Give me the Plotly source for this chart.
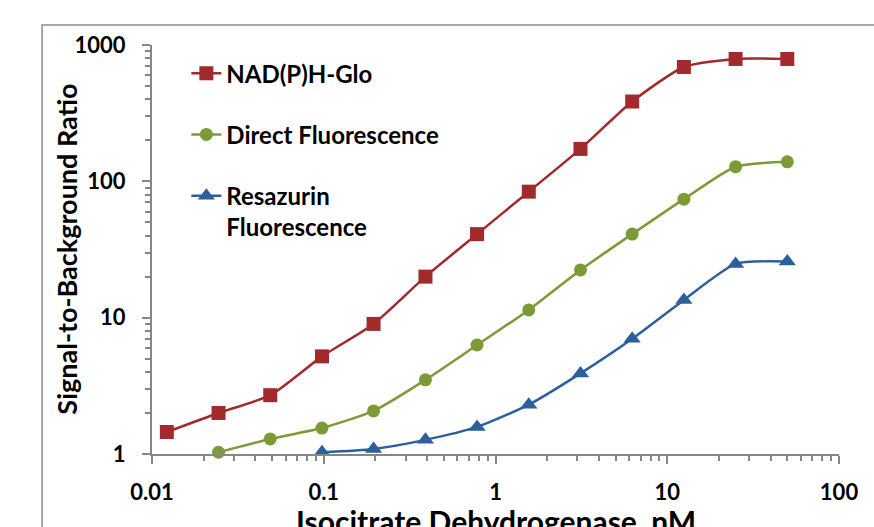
import plotly.graph_objects as go

# Enzyme concentration series (nM), two-fold dilutions
conc_nadph = [0.0122, 0.0244, 0.0488, 0.0977, 0.195, 0.391, 0.781, 1.5625, 3.125, 6.25, 12.5, 25, 50]
conc_direct = [0.0244, 0.0488, 0.0977, 0.195, 0.391, 0.781, 1.5625, 3.125, 6.25, 12.5, 25, 50]
conc_resaz = [0.0977, 0.195, 0.391, 0.781, 1.5625, 3.125, 6.25, 12.5, 25, 50]

# Signal-to-background ratios
sb_nadph = [1.45, 2.0, 2.7, 5.2, 9.0, 20, 41, 84, 173, 385, 690, 790, 790]
sb_direct = [1.03, 1.29, 1.55, 2.07, 3.5, 6.3, 11.4, 22.4, 41, 74, 128, 139]
sb_resaz = [1.03, 1.09, 1.27, 1.58, 2.3, 3.9, 7.0, 13.5, 24.8, 25.8]

names = ["NAD(P)H-Glo", "Direct Fluorescence", "Resazurin<br>Fluorescence"]
colors = ["#A2292C", "#7C9A36", "#2C609C"]
symbols = ["square", "circle", "triangle-up"]
sizes = [14, 13, 15]

x_title = "Isocitrate Dehydrogenase, nM"
y_title = "Signal-to-Background Ratio"

FONT = "Lato"
AXIS_GRAY = "#878787"

fig = go.Figure()
for i, (xs, ys) in enumerate([(conc_nadph, sb_nadph), (conc_direct, sb_direct), (conc_resaz, sb_resaz)]):
    fig.add_trace(go.Scatter(
        x=xs, y=ys, name=names[i], legendgroup=f"g{i}",
        mode="lines+markers",
        line=dict(color=colors[i], width=2.5, shape="spline", smoothing=0.6),
        marker=dict(color=colors[i], symbol=symbols[i], size=sizes[i]),
        cliponaxis=False,
    ))

axis_common = dict(
    type="log", showgrid=False, zeroline=False, automargin=False,
    showline=True, linecolor=AXIS_GRAY, linewidth=2,
    ticks="outside", ticklen=8, tickwidth=2, tickcolor=AXIS_GRAY,
    tickfont=dict(family=FONT, size=22, color="#000000", weight="bold"),
    minor=dict(ticks="outside", dtick="D1", ticklen=5, tickwidth=2,
               tickcolor=AXIS_GRAY, showgrid=False),
)

fig.update_xaxes(
    **axis_common, range=[-2, 2], dtick=1,
    tickvals=[0.01, 0.1, 1, 10, 100], ticktext=["0.01", "0.1", "1", "10", "100"],
    ticklabelstandoff=10,
)
fig.update_yaxes(
    **axis_common, range=[0, 3], dtick=1,
    tickvals=[1, 10, 100, 1000], ticktext=["1", "10", "100", "1000"],
    ticklabelstandoff=12,
)

title_font = dict(family=FONT, color="#000000", weight="bold")
# Axis titles placed as annotations so the x title can sit partly below the page edge
fig.add_annotation(text=x_title, xref="paper", yref="paper", x=0.5, y=-0.163,
                   xanchor="center", yanchor="middle", showarrow=False,
                   font=dict(**title_font, size=30))
fig.add_annotation(text=y_title, xref="paper", yref="paper", x=-0.125, y=0.5,
                   xanchor="center", yanchor="middle", showarrow=False, textangle=-90,
                   font=dict(**title_font, size=27))

# Outer chart frame
fig.add_shape(type="rect", xref="paper", yref="paper",
              x0=-0.16, x1=1.3, y0=-0.5, y1=1.049,
              line=dict(color="#8C8C8C", width=1.5), fillcolor="rgba(0,0,0,0)", layer="below")

fig.update_layout(
    width=874, height=527,
    margin=dict(l=152, r=35, t=45, b=73),
    paper_bgcolor="white", plot_bgcolor="white",
    showlegend=True,
    legend=dict(
        x=0.05, y=0.985, xanchor="left", yanchor="top",
        traceorder="grouped", tracegroupgap=27, itemwidth=30, valign="top",
        font=dict(family=FONT, size=24, color="#000000", weight="bold"),
        bgcolor="rgba(0,0,0,0)",
    ),
)

fig.write_html("out.html")
